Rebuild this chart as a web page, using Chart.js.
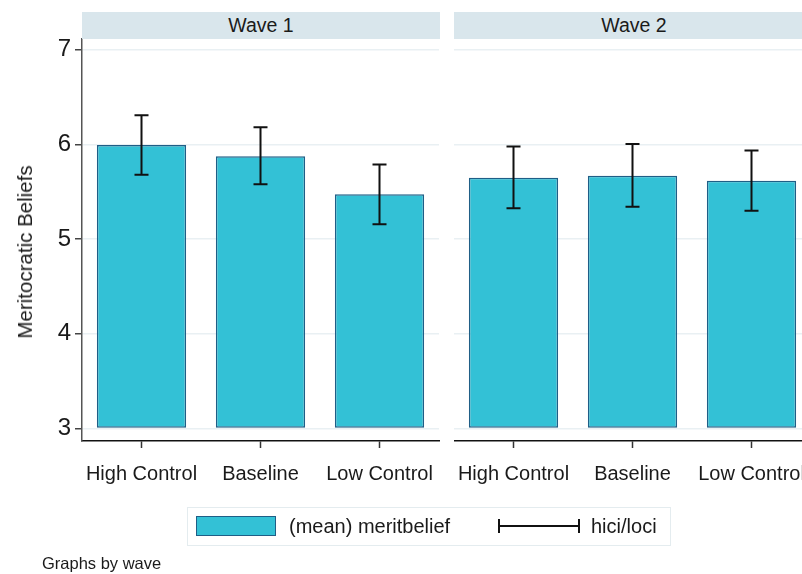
<!DOCTYPE html>
<html>
<head>
<meta charset="utf-8">
<script src="https://cdn.jsdelivr.net/npm/chart.js@4/dist/chart.umd.min.js"></script>
<style>
  html, body { margin: 0; padding: 0; background: #fff; }
  body { width: 802px; height: 574px; overflow: hidden; position: relative;
         font-family: "Liberation Sans", Arial, sans-serif; color: #1a1a1a; }
  canvas { position: absolute; top: 0; }
  .strip { position: absolute; top: 12px; height: 27px; background: #d9e6ec;
           font-size: 19.5px; line-height: 27px; text-align: center; color: #1a1a1a; }
  .abs { position: absolute; white-space: nowrap; }
</style>
</head>
<body>
<canvas id="wave1" width="440" height="574" style="left:0"></canvas>
<canvas id="wave2" width="358" height="574" style="left:454px"></canvas>

<div class="strip" id="strip1" style="left:82px; width:358px;"></div>
<div class="strip" id="strip2" style="left:454px; width:360px;"></div>

<div class="abs" id="ytitle" style="left:24.5px; top:251.5px; font-size:20.5px; transform:translate(-50%,-50%) rotate(-90deg);"></div>

<!-- legend -->
<div class="abs" style="left:187px; top:507px; width:482px; height:37px; border:1px solid #e4ecef;"></div>
<div class="abs" id="swatch" style="left:196px; top:516px; width:78px; height:18px; border:1.5px solid #1f5e86;"></div>
<div class="abs" id="legMean" style="left:289px; top:514px; font-size:20px; line-height:24px;"></div>
<div class="abs" style="left:498px; top:525px; width:81px; height:2px; background:#111;"></div>
<div class="abs" style="left:497.5px; top:519px; width:2px; height:14px; background:#111;"></div>
<div class="abs" style="left:577.5px; top:519px; width:2px; height:14px; background:#111;"></div>
<div class="abs" id="legCI" style="left:591px; top:514px; font-size:20px; line-height:24px;"></div>

<div class="abs" id="note" style="left:42px; top:553px; font-size:16.5px; line-height:20px;"></div>

<script>
// categories and values per wave
const categories = ['High Control', 'Baseline', 'Low Control'];
const panelTitles = ['Wave 1', 'Wave 2'];

const wave1Mean = [5.995, 5.875, 5.474];
const wave1Hi   = [6.309, 6.182, 5.787];
const wave1Lo   = [5.681, 5.579, 5.157];

const wave2Mean = [5.649, 5.670, 5.617];
const wave2Hi   = [5.977, 6.005, 5.935];
const wave2Lo   = [5.326, 5.342, 5.300];

const yTicks = [3, 4, 5, 6, 7];
const yTitle = 'Meritocratic Beliefs';
const meanLabel = '(mean) meritbelief';
const ciLabel = 'hici/loci';
const noteText = 'Graphs by wave';

const BAR_FILL = '#33c1d6';
const BAR_EDGE = '#1f5e86';
const GRID = '#e9f0f3';
const FONT = '"Liberation Sans", Arial, sans-serif';

document.getElementById('strip1').textContent = panelTitles[0];
document.getElementById('strip2').textContent = panelTitles[1];
document.getElementById('ytitle').textContent = yTitle;
document.getElementById('legMean').textContent = meanLabel;
document.getElementById('legCI').textContent = ciLabel;
document.getElementById('note').textContent = noteText;
document.getElementById('swatch').style.background = BAR_FILL;

// draws hi/lo capped whiskers over each bar
const errorBars = {
  id: 'errorBars',
  afterDatasetsDraw(chart, args, opts) {
    const ctx = chart.ctx;
    const y = chart.scales.y;
    const meta = chart.getDatasetMeta(0);
    ctx.save();
    ctx.strokeStyle = '#111';
    ctx.lineWidth = 2;
    meta.data.forEach((bar, i) => {
      const x = bar.x;
      const yh = y.getPixelForValue(opts.hi[i]);
      const yl = y.getPixelForValue(opts.lo[i]);
      ctx.beginPath();
      ctx.moveTo(x, yh); ctx.lineTo(x, yl);
      ctx.moveTo(x - 7, yh); ctx.lineTo(x + 7, yh);
      ctx.moveTo(x - 7, yl); ctx.lineTo(x + 7, yl);
      ctx.stroke();
    });
    ctx.restore();
  }
};

function makePanel(id, means, hi, lo, showY) {
  return new Chart(document.getElementById(id), {
    type: 'bar',
    data: {
      labels: categories,
      datasets: [{
        data: means,
        base: 3,
        backgroundColor: BAR_FILL,
        borderColor: BAR_EDGE,
        borderWidth: 1.5,
        borderSkipped: false,
        categoryPercentage: 1,
        barPercentage: 0.75
      }]
    },
    options: {
      responsive: false,
      animation: false,
      layout: { padding: { top: 39, right: 1, left: 0, bottom: 0 } },
      plugins: {
        legend: { display: false },
        tooltip: { enabled: false },
        errorBars: { hi: hi, lo: lo }
      },
      scales: {
        x: {
          offset: true,
          grid: { display: true, drawOnChartArea: false, drawTicks: true, tickLength: 7,
                  tickColor: '#333', tickWidth: 1.5, offset: false },
          border: { display: true, color: '#111', width: 1.5 },
          ticks: { color: '#1a1a1a', font: { family: FONT, size: 20 }, padding: 14,
                   maxRotation: 0, autoSkip: false },
          afterFit: s => { s.height = 574 - 441; s.paddingLeft = 0; s.paddingRight = 0; }
        },
        y: {
          min: 2.869,
          max: 7.113,
          afterBuildTicks: s => { s.ticks = yTicks.map(v => ({ value: v })); },
          grid: { color: GRID, lineWidth: 1.5, drawTicks: showY, tickLength: 7,
                  tickColor: '#444', tickWidth: 1.5 },
          border: { display: showY, color: '#555', width: 1.5 },
          ticks: { display: showY, color: '#1a1a1a', font: { family: FONT, size: 24 }, padding: 4 },
          afterFit: s => { s.width = showY ? 82 : 0; s.paddingTop = 0; s.paddingBottom = 0; }
        }
      }
    },
    plugins: [errorBars]
  });
}

makePanel('wave1', wave1Mean, wave1Hi, wave1Lo, true);
makePanel('wave2', wave2Mean, wave2Hi, wave2Lo, false);
</script>
</body>
</html>
